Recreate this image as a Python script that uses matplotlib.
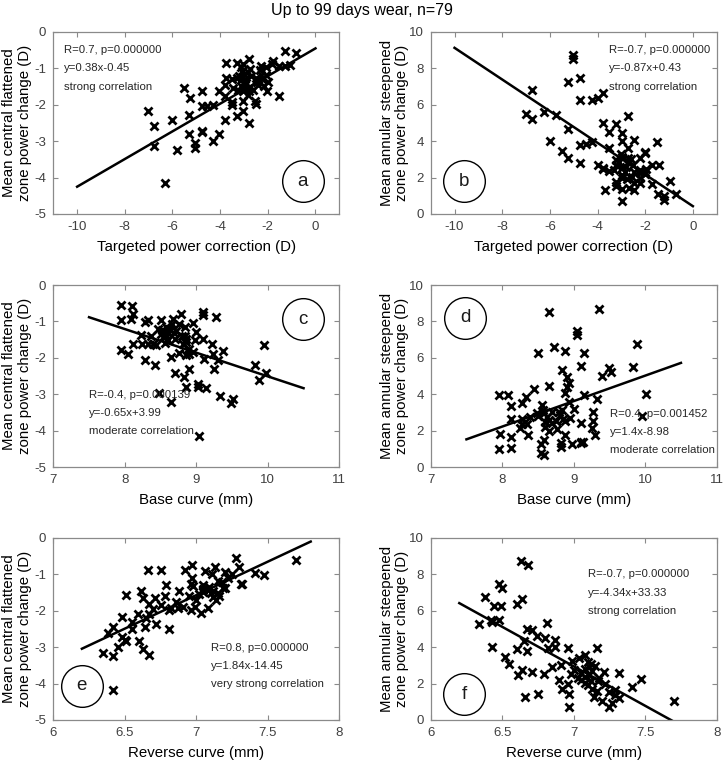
import numpy as np
import matplotlib
matplotlib.use('Agg')
import matplotlib.pyplot as plt

plt.rcParams['font.family'] = ['Liberation Sans', 'DejaVu Sans']
plt.rcParams['axes.unicode_minus'] = False

# panel a: targeted power correction vs central flattened zone change
a_x = [-1.28, -0.80, -3.77, -3.28, -3.04, -2.79, -1.79, -1.82, -2.30, -2.07, -1.54, -1.05, -1.26,
       -2.76, -3.10, -3.77, -3.51, -3.28, -3.07, -3.00, -2.30, -2.09, -2.51, -1.98, -3.79, -3.14,
       -3.00, -2.75, -2.40, -2.16, -3.24, -2.79, -2.03, -2.60, -2.82, -1.54, -5.51, -5.27, -4.77,
       -4.05, -3.79, -3.51, -3.51, -3.04, -2.54, -2.50, -3.03, -3.28, -3.79, -2.79, -4.77, -4.54,
       -4.30, -5.30, -6.04, -7.03, -6.79, -5.30, -4.77, -4.77, -4.05, -4.30, -5.05, -5.05, -5.79,
       -6.79, -6.31, -2.44, -3.20, -2.70, -3.00, -3.12, -2.32, -2.23, -3.48, -2.90, -2.95, -3.05, -2.85]
a_y = [-0.51, -0.58, -0.85, -0.85, -0.88, -0.73, -0.79, -0.88, -0.93, -0.97, -0.94, -0.92, -0.93,
       -1.01, -1.06, -1.25, -1.28, -1.26, -1.25, -1.37, -1.17, -1.17, -1.26, -1.37, -1.45, -1.47,
       -1.54, -1.52, -1.45, -1.48, -1.59, -1.63, -1.61, -1.60, -1.72, -1.75, -1.54, -1.81, -1.63,
       -1.63, -1.77, -1.91, -2.00, -1.89, -1.89, -1.98, -2.16, -2.32, -2.41, -2.50, -2.02, -2.04,
       -2.00, -2.27, -2.43, -2.16, -2.59, -2.80, -2.71, -2.76, -2.79, -2.99, -3.05, -3.19, -3.23,
       -3.14, -4.15, -1.36, -1.20, -1.20, -1.15, -0.95, -1.04, -1.30, -1.55, -1.40, -1.30, -1.62, -1.10]

# panel b: targeted power correction vs annular steepened zone change
b_x = [-5.01, -5.01, -5.24, -4.73, -4.73, -4.24, -4.00, -3.75, -6.73, -7.01, -6.73, -6.24, -5.75,
       -5.24, -5.98, -5.47, -5.24, -4.73, -4.49, -4.24, -4.73, -3.75, -3.23, -2.73, -3.50, -2.98,
       -2.98, -2.49, -1.49, -3.50, -2.73, -3.98, -3.75, -3.75, -3.50, -3.23, -3.23, -2.98, -2.73,
       -2.73, -2.21, -2.00, -2.00, -2.98, -2.80, -2.49, -2.21, -2.00, -1.72, -1.44, -3.23, -3.23,
       -3.68, -2.98, -2.98, -2.70, -2.46, -2.21, -2.46, -2.98, -2.98, -1.72, -1.47, -1.23, -1.23,
       -0.98, -0.71, -2.21, -2.00, -2.60, -2.85, -3.10, -2.50, -2.75, -3.00, -2.20, -3.30, -2.55, -1.95]
b_y = [8.71, 8.51, 7.28, 7.47, 6.27, 6.24, 6.40, 6.64, 6.79, 5.49, 5.23, 5.58, 5.45,
       4.68, 4.03, 3.47, 3.06, 3.80, 3.85, 3.98, 2.82, 4.99, 4.95, 5.36, 4.49, 4.44,
       4.02, 4.07, 3.98, 3.65, 3.61, 2.70, 2.55, 2.45, 2.38, 2.97, 2.70, 3.15, 3.06,
       2.88, 3.06, 3.34, 3.40, 2.51, 2.60, 2.33, 2.43, 2.33, 2.70, 2.70, 1.78, 1.54,
       1.32, 2.15, 1.97, 1.41, 1.72, 1.72, 1.32, 1.36, 0.73, 1.65, 1.10, 0.99, 0.75,
       1.83, 1.08, 2.24, 2.20, 3.00, 2.30, 2.85, 2.70, 1.90, 3.30, 2.00, 2.40, 2.05, 2.50]

# panel c: base curve vs central flattened zone change
c_x = [7.94, 8.10, 8.11, 7.94, 8.08, 8.28, 8.33, 8.50, 8.67, 8.78, 8.66, 8.76, 8.84, 8.95, 9.09,
       9.09, 9.28, 8.22, 8.36, 8.52, 8.56, 8.58, 8.69, 8.54, 8.70, 8.84, 8.86, 8.98, 9.09, 8.11,
       8.24, 8.33, 8.44, 8.56, 8.81, 8.86, 9.22, 9.95, 7.94, 8.05, 8.76, 8.86, 8.90, 8.95, 8.64,
       9.11, 9.24, 9.38, 9.31, 8.28, 8.42, 9.82, 9.98, 9.87, 9.25, 8.70, 8.83, 8.90, 8.86, 9.03,
       9.03, 9.14, 9.33, 9.51, 9.48, 8.48, 8.64, 9.04, 8.57, 8.62, 8.60, 8.50, 8.72, 8.80, 8.40,
       9.00, 8.46, 8.90, 8.60]
c_y = [-0.55, -0.59, -0.79, -0.96, -0.93, -1.02, -0.96, -0.96, -0.93, -0.79, -1.07, -1.07, -1.16,
       -1.04, -0.75, -0.82, -0.87, -1.36, -1.39, -1.23, -1.29, -1.37, -1.32, -1.43, -1.48, -1.39,
       -1.48, -1.52, -1.48, -1.61, -1.61, -1.61, -1.66, -1.59, -1.63, -1.56, -1.63, -1.66, -1.78,
       -1.89, -1.88, -1.91, -1.89, -1.85, -1.99, -2.02, -1.89, -1.81, -2.06, -2.05, -2.19, -2.19,
       -2.43, -2.60, -2.30, -2.43, -2.52, -2.30, -2.80, -2.71, -2.80, -2.84, -3.05, -3.14, -3.24,
       -2.98, -3.21, -4.14, -1.16, -1.20, -1.30, -1.35, -1.25, -1.40, -1.62, -1.30, -1.20, -1.75, -1.50]

# panel d: base curve vs annular steepened zone change
d_x = [9.35, 8.66, 9.05, 9.05, 8.73, 8.88, 9.14, 8.50, 9.88, 9.10, 9.50, 9.52, 9.83, 9.39, 8.84,
       8.91, 8.93, 8.91, 8.66, 8.44, 7.96, 8.08, 8.33, 8.27, 8.13, 8.88, 9.14, 9.32, 10.01, 8.94,
       8.56, 8.57, 8.58, 8.48, 8.79, 8.83, 8.81, 8.85, 8.88, 9.00, 9.27, 8.12, 8.28, 8.39, 8.28,
       8.34, 8.25, 7.97, 8.13, 8.36, 8.60, 8.60, 8.65, 8.69, 8.76, 8.66, 8.88, 8.59, 8.54, 8.54,
       8.58, 8.82, 8.82, 8.97, 9.10, 9.10, 9.13, 9.10, 9.25, 9.27, 9.30, 7.96, 8.12, 9.95, 8.70,
       8.62, 8.75, 8.50, 8.95]
d_y = [8.68, 8.50, 7.47, 7.25, 6.60, 6.38, 6.27, 6.24, 6.75, 5.54, 5.42, 5.23, 5.47, 4.99, 5.32,
       4.92, 4.62, 4.40, 4.46, 4.31, 3.95, 3.95, 3.85, 3.52, 3.36, 4.04, 3.95, 3.76, 4.00, 3.58,
       3.40, 3.15, 2.97, 2.97, 3.03, 3.11, 2.85, 2.66, 2.55, 3.21, 3.03, 2.66, 2.66, 2.75, 2.39,
       2.35, 2.15, 1.83, 1.65, 1.74, 2.48, 2.20, 2.60, 2.40, 2.11, 1.97, 1.78, 1.51, 1.25, 0.77,
       0.64, 1.32, 1.10, 1.29, 1.38, 1.30, 1.38, 2.42, 2.17, 2.53, 1.78, 1.01, 1.07, 2.81, 3.00,
       2.75, 2.55, 2.80, 2.70]

# panel e: reverse curve vs central flattened zone change
e_x = [7.28, 7.70, 7.30, 6.66, 6.75, 6.92, 6.97, 6.97, 7.06, 7.13, 7.11, 7.20, 7.25, 7.41, 7.47,
       7.32, 7.31, 7.15, 7.19, 7.20, 6.96, 6.98, 7.05, 7.05, 7.05, 7.08, 7.10, 7.12, 7.14, 7.15,
       7.08, 7.03, 6.96, 6.99, 6.91, 6.87, 6.82, 6.81, 6.79, 6.88, 6.78, 6.71, 6.75, 6.67, 6.61,
       6.63, 6.51, 6.59, 6.65, 6.67, 6.55, 6.48, 6.72, 6.64, 6.81, 6.42, 6.38, 6.48, 6.50, 6.51,
       6.60, 6.45, 6.63, 6.67, 6.35, 6.42, 6.42, 7.05, 7.02, 7.09, 7.12, 7.16, 6.95, 7.00, 6.86,
       7.18, 7.22, 6.70, 6.55]
e_y = [-0.55, -0.61, -0.81, -0.88, -0.88, -0.87, -0.75, -1.09, -0.91, -0.81, -0.99, -0.94, -0.98,
       -0.96, -1.02, -1.25, -1.27, -1.19, -1.36, -1.38, -1.27, -1.32, -1.30, -1.43, -1.47, -1.43,
       -1.50, -1.63, -1.70, -1.50, -1.91, -2.07, -1.98, -1.90, -1.89, -1.91, -1.93, -1.98, -1.30,
       -1.45, -1.60, -1.66, -1.84, -1.82, -1.46, -1.66, -1.57, -2.09, -2.21, -2.09, -2.30, -2.18,
       -2.36, -2.44, -2.51, -2.44, -2.62, -2.73, -2.81, -2.82, -2.82, -3.00, -3.06, -3.21, -3.17,
       -3.24, -4.17, -1.40, -1.55, -1.35, -1.45, -1.58, -1.60, -1.70, -1.75, -1.20, -1.10, -1.95, -2.50]

# panel f: reverse curve vs annular steepened zone change
f_x = [6.63, 6.68, 6.48, 6.50, 6.38, 6.44, 6.49, 6.60, 6.64, 6.34, 6.42, 6.43, 6.48, 6.67, 6.71,
       6.74, 6.81, 6.80, 6.87, 6.65, 6.43, 6.60, 6.67, 6.82, 6.87, 6.96, 7.16, 6.52, 6.55, 6.61,
       6.64, 6.71, 6.79, 6.91, 6.99, 7.04, 7.08, 7.10, 7.12, 7.15, 7.11, 7.08, 7.21, 7.32, 6.98,
       7.03, 7.05, 7.08, 7.11, 7.12, 7.17, 6.96, 6.92, 6.97, 7.13, 7.16, 7.14, 7.20, 7.29, 7.29,
       7.32, 7.27, 7.25, 7.41, 7.47, 7.70, 6.66, 6.75, 6.97, 7.05, 7.00, 7.18, 6.90, 7.10, 7.25,
       7.08, 7.22, 6.85, 7.13]
f_y = [8.71, 8.53, 7.46, 7.27, 6.76, 6.26, 6.26, 6.39, 6.63, 5.25, 5.52, 5.40, 5.49, 5.01, 4.93,
       4.64, 5.34, 4.48, 4.42, 4.36, 4.02, 3.91, 3.77, 3.96, 4.00, 3.96, 3.96, 3.44, 3.07, 2.45,
       2.76, 2.63, 2.54, 3.04, 3.22, 3.41, 3.55, 3.17, 3.10, 2.95, 2.90, 2.80, 2.63, 2.58, 2.52,
       2.30, 2.20, 2.37, 2.45, 2.15, 2.12, 1.99, 1.71, 1.42, 1.71, 1.60, 1.29, 1.07, 1.66, 1.40,
       1.20, 0.96, 0.70, 1.80, 2.25, 1.05, 1.25, 1.42, 0.70, 2.60, 2.75, 2.30, 2.20, 1.95, 1.55,
       2.05, 2.00, 2.90, 2.70]

# regression lines: slope, intercept, x start, x end
fits = [(0.38, -0.45, -10, 0), (-0.87, 0.43, -10, 0),
        (-0.65, 3.99, 7.5, 10.5), (1.4, -8.98, 7.5, 10.5),
        (1.84, -14.45, 6.2, 7.8), (-4.34, 33.33, 6.2, 7.7)]
stats = [["R=0.7, p=0.000000", "y=0.38x-0.45", "strong correlation"],
         ["R=-0.7, p=0.000000", "y=-0.87x+0.43", "strong correlation"],
         ["R=-0.4, p=0.000139", "y=-0.65x+3.99", "moderate correlation"],
         ["R=0.4, p=0.001452", "y=1.4x-8.98", "moderate correlation"],
         ["R=0.8, p=0.000000", "y=1.84x-14.45", "very strong correlation"],
         ["R=-0.7, p=0.000000", "y=-4.34x+33.33", "strong correlation"]]
letters = ['a', 'b', 'c', 'd', 'e', 'f']
xlabels = ['Targeted power correction (D)', 'Base curve (mm)', 'Reverse curve (mm)']
ylab_flat = 'Mean central flattened\nzone power change (D)'
ylab_steep = 'Mean annular steepened\nzone power change (D)'

xs = [a_x, b_x, c_x, d_x, e_x, f_x]
ys = [a_y, b_y, c_y, d_y, e_y, f_y]
xlims = [(-11, 1), (-11, 1), (7, 11), (7, 11), (6, 8), (6, 8)]
xticks = [np.arange(-10, 1, 2), np.arange(-10, 1, 2), np.arange(7, 12, 1),
          np.arange(7, 12, 1), np.arange(6, 8.01, 0.5), np.arange(6, 8.01, 0.5)]
# text placement (axes fraction) and letter circle placement
text_pos = [(0.037, 0.90), (0.623, 0.90), (0.126, 0.397), (0.627, 0.293), (0.55, 0.397), (0.549, 0.80)]
circ_pos = [(0.873, 0.181), (0.117, 0.181), (0.874, 0.813), (0.120, 0.821), (0.099, 0.188), (0.117, 0.141)]

fig = plt.figure(figsize=(7.23, 7.6), dpi=100)
lefts = [53.3 / 723, 430.7 / 723]
bottoms = [1 - 214 / 760, 1 - 467 / 760, 1 - 720 / 760]
w = 286 / 723
h = 182 / 760
spine_col = '#8a8a8a'
tick_col = '#404040'

for i in range(6):
    row, col = i // 2, i % 2
    ax = fig.add_axes([lefts[col], bottoms[row], w, h])
    ax.plot(xs[i], ys[i], 'x', color='black', markersize=5.5, markeredgewidth=2)
    k, b0, x0, x1 = fits[i]
    lx = np.array([x0, x1])
    ax.plot(lx, k * lx + b0, color='black', linewidth=1.8)
    ax.set_xlim(*xlims[i])
    ax.set_xticks(xticks[i])
    ax.set_xticklabels(['%g' % t for t in xticks[i]])
    if col == 0:
        ax.set_ylim(-5, 0)
        ax.set_yticks(range(-5, 1))
        ax.set_ylabel(ylab_flat, fontsize=10.8, linespacing=1.15)
    else:
        ax.set_ylim(0, 10)
        ax.set_yticks(range(0, 11, 2))
        ax.set_ylabel(ylab_steep, fontsize=10.8, linespacing=1.15)
    ax.yaxis.set_label_coords(-0.075, 0.5)
    ax.set_xlabel(xlabels[row], fontsize=10.8, labelpad=5)
    for s in ax.spines.values():
        s.set_color(spine_col)
        s.set_linewidth(0.9)
    ax.tick_params(direction='in', top=True, right=True, length=3.5, width=0.8,
                   color=spine_col, labelcolor=tick_col, labelsize=9.5, pad=5)

    tx, ty = text_pos[i]
    for j, line in enumerate(stats[i]):
        ax.text(tx, ty - j * 0.1, line, transform=ax.transAxes, fontsize=8.2,
                color='#262626', va='center', ha='left')

    cx, cy = circ_pos[i]
    ax.plot([cx], [cy], 'o', transform=ax.transAxes, markersize=30,
            markerfacecolor='white', markeredgecolor='black', markeredgewidth=1.0, clip_on=False)
    ax.text(cx, cy, letters[i], transform=ax.transAxes, fontsize=13.5,
            ha='center', va='center', color='#1a1a1a')

fig.text(0.5, 1 - 11 / 760, 'Up to 99 days wear, n=79', ha='center', va='center', fontsize=11.5)

plt.savefig('out.png', dpi=100)
